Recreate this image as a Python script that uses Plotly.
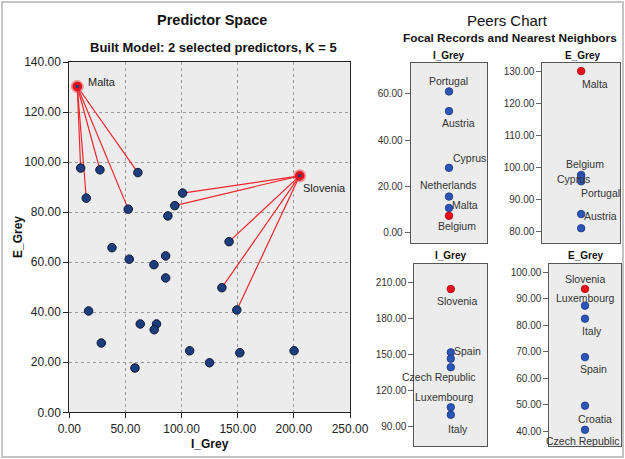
import plotly.graph_objects as go

W, H = 625, 459

# ---------------- data ----------------
countries = ["Malta", "Belgium", "Netherlands", "Cyprus", "Austria", "Portugal",
             "", "", "", "", "", "", "", "", "", "", "", "",
             "Luxembourg", "Italy", "", "Spain", "Croatia", "Czech Republic",
             "", "", "", "Slovenia"]
i_grey = [7.1, 10.1, 15.1, 27.3, 52.5, 61.1,
          38.0, 53.4, 85.8, 75.4, 85.8, 17.2, 63.2, 77.7, 75.6, 28.5, 58.5, 107.2,
          100.9, 94.0, 87.8, 142.3, 135.9, 149.2,
          124.9, 151.9, 200.2, 205.2]
e_grey = [130.2, 97.6, 85.6, 96.9, 81.2, 95.8,
          65.8, 61.2, 62.5, 59.0, 53.7, 40.5, 35.3, 35.3, 33.0, 27.7, 17.7, 24.6,
          87.6, 82.6, 78.5, 68.2, 49.8, 40.9,
          19.8, 23.8, 24.6, 94.5]
focal = ["Malta", "Slovenia"]
neighbors = {
    "Malta": ["Belgium", "Netherlands", "Cyprus", "Austria", "Portugal"],
    "Slovenia": ["Luxembourg", "Italy", "Spain", "Croatia", "Czech Republic"],
}

# peers chart values (as drawn in the peers panels)
peer_malta_i = [61.0, 52.5, 28.0, 15.6, 10.7]
peer_malta_i_focal = 7.3
peer_malta_e = [97.7, 96.9, 95.7, 85.5, 81.1]
peer_malta_e_focal = 130.0
peer_slov_i = [151.5, 146.2, 139.1, 105.8, 99.6]
peer_slov_i_focal = 204.2
peer_slov_e = [87.4, 82.5, 68.0, 49.7, 40.6]
peer_slov_e_focal = 93.7

# label texts of the peers panels, with where they sit (x fraction of panel, y value)
lab_p1 = [("Portugal", 0.50, 65.4), ("Austria", 0.63, 47.4), ("Cyprus", 0.77, 32.3),
          ("Netherlands", 0.49, 20.5), ("Malta", 0.71, 11.9), ("Belgium", 0.61, 2.9)]
lab_p2 = [("Malta", 0.68, 126.0), ("Belgium", 0.545, 101.0), ("Cyprus", 0.40, 96.5),
          ("Portugal", 0.755, 92.0), ("Austria", 0.745, 84.9)]
lab_p3 = [("Slovenia", 0.58, 194.4), ("Spain", 0.73, 152.9), ("Czech Republic", 0.34, 130.7),
          ("Luxembourg", 0.42, 114.1), ("Italy", 0.60, 88.0)]
lab_p4 = [("Slovenia", 0.50, 97.6), ("Luxembourg", 0.50, 90.3), ("Italy", 0.595, 78.0),
          ("Spain", 0.625, 63.5), ("Croatia", 0.64, 44.8), ("Czech Republic", 0.476, 36.5)]

x_ticks = [0, 50, 100, 150, 200, 250]
y_ticks = [0, 20, 40, 60, 80, 100, 120, 140]

# ---------------- helpers ----------------
def fx(px):
    return px / W

def fy(py):
    return 1 - py / H

NAVY = "#1d3e7e"
BLUE = "#2c55b8"
RED = "#e8101a"
FONT = "Liberation Sans, Arial, sans-serif"

fig = go.Figure()

# main chart: lines from focal to neighbors
idx = {c: i for i, c in enumerate(countries) if c}
lx, ly = [], []
for f in focal:
    for n in neighbors[f]:
        lx += [i_grey[idx[f]], i_grey[idx[n]], None]
        ly += [e_grey[idx[f]], e_grey[idx[n]], None]
fig.add_trace(go.Scatter(x=lx, y=ly, mode="lines", line=dict(color="#f0262e", width=1.2),
                         xaxis="x", yaxis="y", hoverinfo="skip"))
# all points
fig.add_trace(go.Scatter(x=i_grey, y=e_grey, mode="markers",
                         marker=dict(size=8.5, color=NAVY, line=dict(color="#0b1733", width=1)),
                         xaxis="x", yaxis="y"))
# focal highlights
fxs = [i_grey[idx[f]] for f in focal]
fys = [e_grey[idx[f]] for f in focal]
fig.add_trace(go.Scatter(x=fxs, y=fys, mode="markers",
                         marker=dict(size=13, color="rgba(255,70,70,0.55)", line=dict(width=0)),
                         xaxis="x", yaxis="y"))
fig.add_trace(go.Scatter(x=fxs, y=fys, mode="markers",
                         marker=dict(size=9, color=RED, line=dict(width=0)),
                         xaxis="x", yaxis="y"))
fig.add_trace(go.Scatter(x=fxs, y=fys, mode="markers",
                         marker=dict(size=3.5, color=NAVY, line=dict(width=0)),
                         xaxis="x", yaxis="y"))

# peers panels
panels = [
    ("x2", "y2", peer_malta_i, peer_malta_i_focal),
    ("x3", "y3", peer_malta_e, peer_malta_e_focal),
    ("x4", "y4", peer_slov_i, peer_slov_i_focal),
    ("x5", "y5", peer_slov_e, peer_slov_e_focal),
]
for xa, ya, vals, fv in panels:
    fig.add_trace(go.Scatter(x=[0.5] * len(vals), y=vals, mode="markers",
                             marker=dict(size=7.5, color=BLUE, line=dict(color="#1a3580", width=0.8)),
                             xaxis=xa, yaxis=ya))
    fig.add_trace(go.Scatter(x=[0.5], y=[fv], mode="markers",
                             marker=dict(size=7.5, color=RED, line=dict(color="#b00010", width=0.8)),
                             xaxis=xa, yaxis=ya))


def ann(text, x, y, size, xref="paper", yref="paper", color="#111", angle=0):
    return dict(text=text, x=x, y=y, xref=xref, yref=yref, showarrow=False,
                xanchor="center", yanchor="middle", textangle=angle,
                font=dict(size=size, color=color, family=FONT))


annotations = [
    ann("<b>Predictor Space</b>", fx(212), fy(20), 14.5),
    ann("<b>Built Model: 2 selected predictors, K = 5</b>", fx(213), fy(47), 13),
    ann("Peers Chart", fx(507), fy(21), 15),
    ann("<b>Focal Records and Nearest Neighbors</b>", fx(510), fy(38), 11.8),
    ann("<b>I_Grey</b>", fx(210), fy(444), 12),
    ann("<b>E_Grey</b>", fx(18), fy(237), 12, angle=-90),
]
for t, cx, cy in [("I_Grey", 449, 56), ("E_Grey", 582, 56), ("I_Grey", 451, 255), ("E_Grey", 585, 255)]:
    annotations.append(ann("<b>%s</b>" % t, fx(cx), fy(cy), 10))
annotations.append(ann("Malta", 29.4, 132.2, 11, "x", "y", "#222"))
annotations.append(ann("Slovenia", 227.4, 89.8, 11, "x", "y", "#222"))
for (xa, ya), labs in zip([("x2", "y2"), ("x3", "y3"), ("x4", "y4"), ("x5", "y5")],
                          [lab_p1, lab_p2, lab_p3, lab_p4]):
    for t, xv, yv in labs:
        annotations.append(ann(t, xv, yv, 10.5, xa, ya, "#333"))

shapes = [dict(type="rect", xref="paper", yref="paper", x0=fx(2), x1=fx(623), y0=fy(457), y1=fy(2),
               line=dict(color="#c4c4c4", width=2), layer="below")]

main_axis = dict(showline=True, linecolor="#222", linewidth=1, mirror=True, ticks="outside",
                 ticklen=5, tickcolor="#222", tickformat=".2f", automargin=False,
                 tickfont=dict(size=12, color="#222", family=FONT),
                 showgrid=True, gridcolor="#9a9a9a", griddash="3px,3px", gridwidth=1, zeroline=False)

def peer_y(rng, ticks, dom):
    return dict(domain=dom, range=rng, tickvals=ticks, tickformat=".2f", ticks="outside", ticklen=5,
                tickcolor="#666", showline=True, linecolor="#555", linewidth=1, mirror=True,
                automargin=False,
                showgrid=False, zeroline=False, tickfont=dict(size=10, color="#333", family=FONT))

def peer_x(dom, anchor):
    return dict(domain=dom, range=[0, 1], showticklabels=False, ticks="", showline=True,
                linecolor="#555", linewidth=1, mirror=True, showgrid=False, zeroline=False,
                automargin=False, anchor=anchor)

fig.update_layout(
    template="none",
    width=W, height=H, margin=dict(l=0, r=0, t=0, b=0, pad=0), autosize=False,
    paper_bgcolor="white", plot_bgcolor="#ececec", showlegend=False,
    font=dict(family=FONT),
    xaxis=dict(domain=[fx(69.3), fx(350)], range=[0, 250], tickvals=x_ticks, anchor="y", **main_axis),
    yaxis=dict(domain=[fy(412.3), fy(62)], range=[0, 140], tickvals=y_ticks, anchor="x", **main_axis),
    xaxis2=peer_x([fx(410.7), fx(487.3)], "y2"),
    yaxis2=dict(anchor="x2", **peer_y([-4.3, 73.4], [0, 20, 40, 60], [fy(242.7), fy(62.7)])),
    xaxis3=peer_x([fx(542.3), fx(620)], "y3"),
    yaxis3=dict(anchor="x3", **peer_y([76.6, 132.6], [80, 90, 100, 110, 120, 130], [fy(242.7), fy(62.7)])),
    xaxis4=peer_x([fx(414.3), fx(487.3)], "y4"),
    yaxis4=dict(anchor="x4", **peer_y([73.6, 225], [90, 120, 150, 180, 210], [fy(446), fy(264)])),
    xaxis5=peer_x([fx(549.3), fx(620.7)], "y5"),
    yaxis5=dict(anchor="x5", **peer_y([34.5, 103.1], [40, 50, 60, 70, 80, 90, 100], [fy(446), fy(264)])),
    annotations=annotations, shapes=shapes,
)

fig.write_html("out.html", config={"displayModeBar": False},
               post_script="document.documentElement.style.margin='0';document.body.style.margin='0';"
                           "document.documentElement.style.overflow='hidden';document.body.style.overflow='hidden';")
